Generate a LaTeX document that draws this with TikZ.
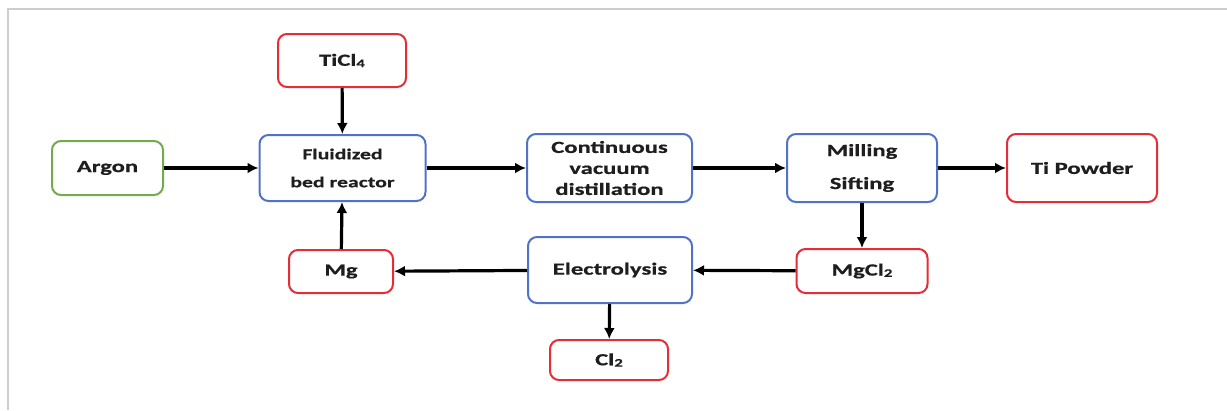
\documentclass[tikz,border=0pt]{standalone}
\usepackage{fontspec}
\usetikzlibrary{arrows.meta}
\newfontfamily\boxfont[FakeStretch=1.45,FakeBold=0.6]{Carlito}
\newcommand\chemsub[1]{\raisebox{-0.08em}{\scalebox{0.68}{#1}}}
\definecolor{boxred}{RGB}{228,45,55}
\definecolor{boxblue}{RGB}{80,115,200}
\definecolor{boxgreen}{RGB}{115,170,75}
\definecolor{txt}{RGB}{30,30,30}
\definecolor{framegray}{RGB}{205,205,205}
\tikzset{
  base/.style={draw, line width=2pt, rounded corners=9pt, align=center, inner sep=2pt,
    text=txt, font=\boxfont\bfseries\fontsize{17}{21}\selectfont},
  redbox/.style={base, draw=boxred},
  bluebox/.style={base, draw=boxblue},
  greenbox/.style={base, draw=boxgreen},
  flow/.style={line width=3.2pt, draw=black, -{Latex[length=11pt,width=11pt]}},
}
\begin{document}
\begin{tikzpicture}[x=1pt,y=-1pt]
\useasboundingbox (0,0) rectangle (1227,410);
\draw[framegray, line width=2pt] (8,410) -- (8,9) -- (1227,9);

\node[redbox, minimum width=128pt, minimum height=53pt] (ticl) at (342,60.5) {TiCl\chemsub{4}};
\node[greenbox, minimum width=111pt, minimum height=54pt] (argon) at (107.5,168) {Argon};
\node[bluebox, minimum width=166pt, minimum height=66pt,
      font=\boxfont\bfseries\fontsize{15}{18}\selectfont] (fbr) at (342.5,168) {Fluidized\\[10pt]bed reactor};
\node[redbox, minimum width=104pt, minimum height=43pt] (mg) at (341,271.5) {Mg};
\node[bluebox, minimum width=165pt, minimum height=68pt] (cvd) at (609.5,168) {Continuous\\vacuum\\distillation};
\node[bluebox, minimum width=164pt, minimum height=66pt] (elec) at (610,270) {Electrolysis};
\node[redbox, minimum width=118pt, minimum height=40pt] (cl) at (609,360) {Cl\chemsub{2}};
\node[bluebox, minimum width=150pt, minimum height=68pt] (ms) at (862,168) {Milling\\[12pt]Sifting};
\node[redbox, minimum width=150pt, minimum height=68pt] (tip) at (1082,168) {Ti Powder};
\node[redbox, minimum width=131pt, minimum height=44pt] (mgcl) at (862,271) {MgCl\chemsub{2}};

\draw[flow] (argon) -- (fbr);
\draw[flow] (fbr) -- (cvd);
\draw[flow] (cvd) -- (ms);
\draw[flow] (ms) -- (tip);
\draw[flow] (ticl) -- (fbr);
\draw[flow] (mg) -- (fbr);
\draw[flow] (ms) -- (mgcl);
\draw[flow] (mgcl) -- (elec);
\draw[flow] (elec) -- (mg);
\draw[flow] (elec) -- (cl);
\end{tikzpicture}
\end{document}
